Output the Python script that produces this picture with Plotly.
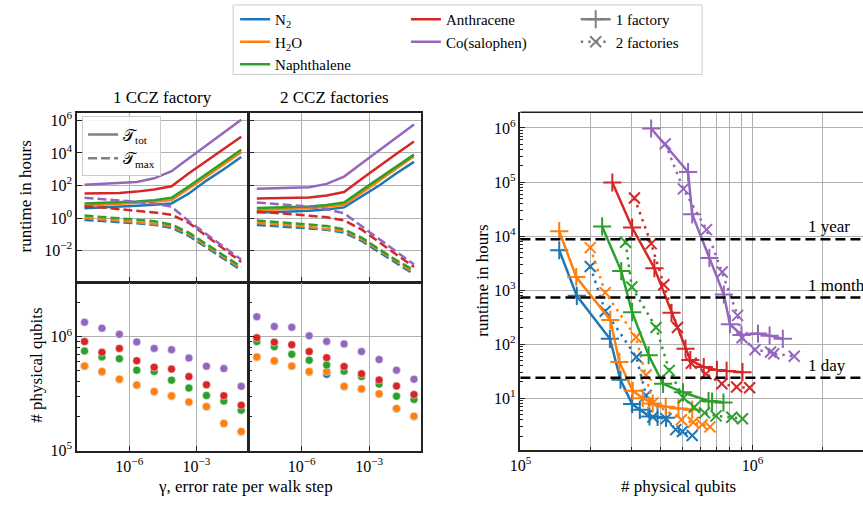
import plotly.graph_objects as go
import math

# ---------------- data ----------------
molecules = ["N2", "H2O", "Naphthalene", "Anthracene", "Co(salophen)"]
mol_labels = ["N<sub>2</sub>", "H<sub>2</sub>O", "Naphthalene", "Anthracene", "Co(salophen)"]
colors = ["#1f77b4", "#ff7f0e", "#2ca02c", "#d62728", "#9467bd"]

gamma = [1e-8, 6.0e-8, 3.6e-7, 2.15e-6, 1.29e-5, 7.7e-5, 4.6e-4, 2.8e-3, 1.67e-2, 1e-1]

# runtime (hours), 1 CCZ factory
ttot_1 = {
    "N2":           [4.0, 4.4, 4.8, 5.6, 6.6, 7.9, 32, 200, 1000, 5600],
    "H2O":          [5.6, 6.3, 7.1, 8.3, 10, 12.6, 63, 355, 2000, 11200],
    "Naphthalene":  [7.9, 8.5, 9.3, 10.5, 12.6, 17.8, 89, 500, 2820, 15800],
    "Anthracene":   [32, 33, 35, 42, 56, 89, 562, 3160, 17800, 100000],
    "Co(salophen)": [110, 126, 145, 166, 275, 759, 4680, 28800, 178000, 1100000],
}
tmax_1 = {
    "N2":           [0.76, 0.66, 0.56, 0.48, 0.38, 0.25, 0.079, 0.016, 0.0032, 0.00063],
    "H2O":          [1.0, 0.85, 0.71, 0.56, 0.45, 0.32, 0.1, 0.02, 0.004, 0.0008],
    "Naphthalene":  [1.41, 1.2, 1.0, 0.79, 0.63, 0.4, 0.126, 0.025, 0.005, 0.001],
    "Anthracene":   [5.2, 4.5, 3.5, 2.8, 2.2, 1.6, 0.5, 0.079, 0.0126, 0.002],
    "Co(salophen)": [17.8, 15.1, 12.6, 10, 7.6, 5.0, 0.63, 0.1, 0.016, 0.0028],
}
# runtime (hours), 2 CCZ factories
ttot_2 = {
    "N2":           [2.2, 2.3, 2.5, 2.8, 3.3, 4.5, 20, 100, 560, 2820],
    "H2O":          [3.0, 3.3, 3.6, 4.2, 5.0, 6.6, 35, 200, 1120, 6300],
    "Naphthalene":  [4.2, 4.5, 4.8, 5.2, 6.3, 8.9, 50, 282, 1580, 7900],
    "Anthracene":   [15.8, 16.2, 17, 18.6, 24, 40, 251, 1580, 8900, 50100],
    "Co(salophen)": [63, 66, 71, 79, 126, 355, 2240, 14100, 89100, 562000],
}
tmax_2 = {
    "N2":           [0.38, 0.33, 0.28, 0.23, 0.19, 0.126, 0.04, 0.0079, 0.0016, 0.00035],
    "H2O":          [0.5, 0.43, 0.35, 0.28, 0.22, 0.16, 0.05, 0.01, 0.002, 0.00045],
    "Naphthalene":  [0.71, 0.6, 0.5, 0.4, 0.32, 0.2, 0.063, 0.0126, 0.0025, 0.00063],
    "Anthracene":   [2.5, 2.1, 1.8, 1.4, 1.12, 0.71, 0.2, 0.032, 0.0056, 0.001],
    "Co(salophen)": [8.9, 7.6, 6.3, 5.0, 3.5, 2.0, 0.32, 0.05, 0.0079, 0.0014],
}
# physical qubits
qubits_1 = {
    "N2":           [5.5e5, 4.9e5, 4.2e5, 3.75e5, 3.28e5, 3.0e5, 2.65e5, 2.42e5, 1.72e5, 1.46e5],
    "H2O":          [5.53e5, 4.95e5, 4.23e5, 3.76e5, 3.3e5, 3.02e5, 2.67e5, 2.43e5, 1.73e5, 1.47e5],
    "Naphthalene":  [7.5e5, 6.65e5, 6.4e5, 5.08e5, 4.95e5, 4.15e5, 3.54e5, 3.04e5, 2.72e5, 2.26e5],
    "Anthracene":   [9.06e5, 7.3e5, 7.9e5, 6.15e5, 5.4e5, 5.19e5, 4.46e5, 3.78e5, 3.03e5, 2.5e5],
    "Co(salophen)": [1.34e6, 1.19e6, 1.05e6, 9.0e5, 7.9e5, 7.7e5, 6.5e5, 5.5e5, 5.25e5, 3.66e5],
}
qubits_2 = {
    "N2":           [6.6e5, 6.1e5, 5.5e5, 4.9e5, 4.67e5, 3.64e5, 3.46e5, 3.13e5, 2.33e5, 1.99e5],
    "H2O":          [6.65e5, 6.15e5, 5.53e5, 4.95e5, 4.95e5, 3.66e5, 3.48e5, 3.15e5, 2.34e5, 2.0e5],
    "Naphthalene":  [9.06e5, 8.17e5, 7.0e5, 6.22e5, 5.64e5, 4.98e5, 4.46e5, 3.83e5, 3.0e5, 2.81e5],
    "Anthracene":   [9.8e5, 8.95e5, 8.5e5, 7.4e5, 6.55e5, 5.47e5, 4.72e5, 4.17e5, 3.68e5, 3.1e5],
    "Co(salophen)": [1.5e6, 1.23e6, 1.21e6, 1.02e6, 9.1e5, 8.65e5, 7.4e5, 6.3e5, 5.08e5, 4.23e5],
}

# right panel: qubits vs runtime
rq_1 = {
    "N2":           [1.47e5, 1.75e5, 2.43e5, 2.7e5, 3.03e5, 3.27e5, 3.6e5, 3.9e5, 4.24e5],
    "H2O":          [1.47e5, 1.74e5, 2.44e5, 2.67e5, 3.05e5, 3.37e5, 3.72e5, 4.23e5, 4.8e5, 5.5e5],
    "Naphthalene":  [2.25e5, 2.72e5, 3.03e5, 3.57e5, 4.12e5, 5.02e5, 6.47e5, 6.7e5, 7.5e5],
    "Anthracene":   [2.49e5, 3.03e5, 3.78e5, 4.48e5, 5.15e5, 5.4e5, 6.17e5, 7.03e5, 7.74e5, 9.06e5],
    "Co(salophen)": [3.66e5, 5.28e5, 5.5e5, 6.52e5, 7.53e5, 8.0e5, 8.97e5, 1.057e6, 1.186e6, 1.352e6],
}
rt_1 = {
    "N2":           [5470, 785, 126, 22, 7.8, 6.1, 4.6, 4.5, 4.35],
    "H2O":          [12300, 1750, 281, 47, 13.7, 10, 8.0, 7.0, 6.5, 6.1],
    "Naphthalene":  [15100, 2250, 392, 62.5, 18.5, 12.9, 8.9, 8.7, 8.35],
    "Anthracene":   [98000, 14400, 2550, 380, 82.8, 50.8, 37.9, 33.5, 32.1, 30.4],
    "Co(salophen)": [977000, 153000, 25300, 3950, 830, 234, 148, 157, 144, 126],
}
rq_2 = {
    "N2":           [2.0e5, 2.32e5, 3.16e5, 3.48e5, 3.72e5, 4.24e5, 4.67e5, 4.99e5, 5.5e5],
    "H2O":          [2.0e5, 2.32e5, 3.15e5, 3.48e5, 3.72e5, 4.94e5, 5.56e5, 6.07e5, 6.56e5],
    "Naphthalene":  [2.84e5, 3.02e5, 3.84e5, 4.38e5, 5.04e5, 5.61e5, 6.22e5, 6.97e5, 8.15e5, 9.06e5],
    "Anthracene":   [3.1e5, 3.66e5, 4.15e5, 4.75e5, 5.45e5, 6.31e5, 7.38e5, 8.55e5, 9.73e5],
    "Co(salophen)": [4.21e5, 5.04e5, 6.34e5, 7.41e5, 8.63e5, 9.02e5, 1.026e6, 1.197e6, 1.236e6, 1.514e6],
}
rt_2 = {
    "N2":           [2740, 408, 58, 11.3, 4.5, 4.2, 2.63, 2.42, 2.05],
    "H2O":          [6120, 900, 134, 27, 8.2, 4.0, 3.6, 3.25, 2.95],
    "Naphthalene":  [7700, 1140, 204, 32.8, 10.2, 6.8, 5.36, 4.72, 4.44, 4.17],
    "Anthracene":   [50700, 7240, 1260, 204, 44.3, 28.3, 18.5, 16.1, 15.6],
    "Co(salophen)": [508000, 74600, 13150, 2160, 341, 132, 78.7, 71.8, 66.7, 60],
}

ref_labels = ["1 year", "1 month", "1 day"]
ref_hours = [8760, 730, 24]
ref_label_x = 1.7e6

# tick definitions
top_y_ticks = [1e-2, 1, 1e2, 1e4, 1e6]
top_y_text = ["10<sup>−2</sup>", "10<sup>0</sup>", "10<sup>2</sup>", "10<sup>4</sup>", "10<sup>6</sup>"]
bot_y_ticks = [1e5, 1e6]
bot_y_text = ["10<sup>5</sup>", "10<sup>6</sup>"]
gam_ticks = [1e-6, 1e-3]
gam_text = ["10<sup>−6</sup>", "10<sup>−3</sup>"]
right_y_ticks = [1e1, 1e2, 1e3, 1e4, 1e5, 1e6]
right_y_text = ["10<sup>1</sup>", "10<sup>2</sup>", "10<sup>3</sup>", "10<sup>4</sup>", "10<sup>5</sup>", "10<sup>6</sup>"]
right_x_ticks = [1e5, 1e6]
right_x_text = ["10<sup>5</sup>", "10<sup>6</sup>"]

# ---------------- styling ----------------
W, H = 863, 509
SERIF = "Liberation Serif, Times New Roman, serif"
FS = 17
GRID = "#b0b0b0"
LW = 2.5

def px_x(p):
    return p / W

def px_y(p):
    return (H - p) / H

fig = go.Figure()

# left panels
for panel, (tt, tm, qb) in enumerate([(ttot_1, tmax_1, qubits_1), (ttot_2, tmax_2, qubits_2)]):
    xa_top = "x" if panel == 0 else "x2"
    ya_top = "y" if panel == 0 else "y2"
    xa_bot = "x3" if panel == 0 else "x4"
    ya_bot = "y3" if panel == 0 else "y4"
    for m, c in zip(molecules, colors):
        fig.add_trace(go.Scatter(x=gamma, y=tt[m], mode="lines", line=dict(color=c, width=LW),
                                 xaxis=xa_top, yaxis=ya_top, showlegend=False))
    for m, c in zip(molecules, colors):
        fig.add_trace(go.Scatter(x=gamma, y=tm[m], mode="lines",
                                 line=dict(color=c, width=LW, dash="9px,4px"),
                                 xaxis=xa_top, yaxis=ya_top, showlegend=False))
    for m, c in zip(molecules, colors):
        fig.add_trace(go.Scatter(x=gamma, y=qb[m], mode="markers",
                                 marker=dict(color=c, size=8, line=dict(color="white", width=0.5)),
                                 xaxis=xa_bot, yaxis=ya_bot, showlegend=False))

# right panel
for m, c in zip(molecules, colors):
    fig.add_trace(go.Scatter(x=rq_1[m], y=rt_1[m], mode="lines+markers",
                             line=dict(color=c, width=LW),
                             marker=dict(symbol="cross-thin", size=13, color=c, line=dict(color=c, width=2)),
                             xaxis="x5", yaxis="y5", showlegend=False))
    fig.add_trace(go.Scatter(x=rq_2[m], y=rt_2[m], mode="lines+markers",
                             line=dict(color=c, width=LW, dash="2.5px,5px"),
                             marker=dict(symbol="x-thin", size=11, color=c, line=dict(color=c, width=2)),
                             xaxis="x5", yaxis="y5", showlegend=False))

# legend entries (main legend split into three columns)
for i, (lab, c) in enumerate(zip(mol_labels, colors)):
    fig.add_trace(go.Scatter(x=[None], y=[None], mode="lines", line=dict(color=c, width=LW),
                             name=lab, legend="legend" if i < 3 else "legend2", xaxis="x5", yaxis="y5"))
fig.add_trace(go.Scatter(x=[None], y=[None], mode="lines+markers", name="1 factory",
                         line=dict(color="gray", width=LW),
                         marker=dict(symbol="cross-thin", size=13, color="gray", line=dict(color="gray", width=2)),
                         legend="legend3", xaxis="x5", yaxis="y5"))
fig.add_trace(go.Scatter(x=[None], y=[None], mode="lines+markers", name="2 factories",
                         line=dict(color="gray", width=LW, dash="2.5px,5px"),
                         marker=dict(symbol="x-thin", size=11, color="gray", line=dict(color="gray", width=2)),
                         legend="legend3", xaxis="x5", yaxis="y5"))
fig.add_trace(go.Scatter(x=[None], y=[None], mode="lines", name="𝒯<sub>tot</sub>",
                         line=dict(color="gray", width=LW), legend="legend4", xaxis="x", yaxis="y"))
fig.add_trace(go.Scatter(x=[None], y=[None], mode="lines", name="𝒯<sub>max</sub>",
                         line=dict(color="gray", width=LW, dash="9px,4px"), legend="legend4", xaxis="x", yaxis="y"))

tickfont = dict(family=SERIF, size=16, color="black")

def ax_common(**kw):
    d = dict(type="log", showline=True, linecolor="#222222", linewidth=1.5, mirror=True,
             ticks="inside", ticklen=5, tickwidth=1, tickcolor="#222222",
             showgrid=True, gridcolor=GRID, gridwidth=1.3, zeroline=False,
             tickmode="array", tickfont=tickfont)
    d.update(kw)
    return d

xl_dom = [px_x(67), px_x(240)]
xr_dom = [px_x(241.5), px_x(415)]
yt_dom = [px_y(285), px_y(112)]
yb_dom = [px_y(458), px_y(286.5)]
x_rng = [-8.33, -0.70]
minor_y = dict(ticks="inside", ticklen=3, dtick="D1", showgrid=False, tickcolor="#222222")

leg_font = dict(family=SERIF, size=15, color="black")
layout = dict(
    width=W, height=H, margin=dict(l=0, r=0, t=0, b=0),
    paper_bgcolor="white", plot_bgcolor="white",
    font=dict(family=SERIF, size=FS, color="black"),
    xaxis=ax_common(domain=xl_dom, anchor="y", range=x_rng, tickvals=gam_ticks, ticktext=gam_text,
                    showticklabels=False),
    yaxis=ax_common(domain=yt_dom, anchor="x", range=[-3.92, 6.48], tickvals=top_y_ticks, ticktext=top_y_text),
    xaxis2=ax_common(domain=xr_dom, anchor="y2", range=x_rng, tickvals=gam_ticks, ticktext=gam_text,
                     showticklabels=False),
    yaxis2=ax_common(domain=yt_dom, anchor="x2", range=[-3.92, 6.48], tickvals=top_y_ticks,
                     ticktext=top_y_text, showticklabels=False),
    xaxis3=ax_common(domain=xl_dom, anchor="y3", range=x_rng, tickvals=gam_ticks, ticktext=gam_text),
    yaxis3=ax_common(domain=yb_dom, anchor="x3", range=[4.994, 6.47], tickvals=bot_y_ticks,
                     ticktext=bot_y_text, minor=minor_y),
    xaxis4=ax_common(domain=xr_dom, anchor="y4", range=x_rng, tickvals=gam_ticks, ticktext=gam_text),
    yaxis4=ax_common(domain=yb_dom, anchor="x4", range=[4.994, 6.47], tickvals=bot_y_ticks,
                     ticktext=bot_y_text, showticklabels=False, minor=minor_y),
    xaxis5=ax_common(domain=[px_x(516), 1.0], anchor="y5", range=[5.0, 6.4766], mirror=False,
                     tickvals=right_x_ticks, ticktext=right_x_text,
                     minor=dict(ticks="inside", ticklen=3, dtick="D1", showgrid=True,
                                gridcolor=GRID, gridwidth=1.3, tickcolor="#222222")),
    yaxis5=ax_common(domain=[px_y(456.7), px_y(111.7)], anchor="x5", range=[0.046, 6.29], mirror=False,
                     tickvals=right_y_ticks, ticktext=right_y_text, minor=minor_y),
    legend=dict(x=px_x(227), y=px_y(0), xanchor="left", yanchor="top", bgcolor="rgba(0,0,0,0)",
                font=leg_font, tracegroupgap=0),
    legend2=dict(x=px_x(400), y=px_y(0), xanchor="left", yanchor="top", bgcolor="rgba(0,0,0,0)",
                 font=leg_font, tracegroupgap=0),
    legend3=dict(x=px_x(572), y=px_y(0), xanchor="left", yanchor="top", bgcolor="rgba(0,0,0,0)",
                 font=leg_font, tracegroupgap=0),
    legend4=dict(x=px_x(72), y=px_y(116), xanchor="left", yanchor="top", bgcolor="rgba(255,255,255,0.85)",
                 bordercolor="#cccccc", borderwidth=1, font=dict(family=SERIF, size=16, color="black"),
                 tracegroupgap=0),
)
fig.update_layout(**layout)

# top frame of right panel
fig.add_shape(type="line", xref="paper", yref="paper", x0=px_x(516), x1=1.0, y0=px_y(111.7), y1=px_y(111.7),
              line=dict(color="#222222", width=1.5))

# legend frame
fig.add_shape(type="rect", xref="paper", yref="paper", x0=px_x(225), x1=px_x(700), y0=px_y(73), y1=px_y(2),
              line=dict(color="#cccccc", width=1), fillcolor="white", layer="below")

# reference horizontal lines on right panel
for lab, hrs in zip(ref_labels, ref_hours):
    fig.add_shape(type="line", xref="x5 domain", yref="y5", x0=0, x1=1, y0=hrs, y1=hrs,
                  line=dict(color="black", width=2.5, dash="10px,5px"))
    fig.add_annotation(x=math.log10(ref_label_x), y=math.log10(hrs), xref="x5", yref="y5",
                       text=lab, showarrow=False, xanchor="left", yanchor="bottom", yshift=1,
                       font=dict(family=SERIF, size=17))

# titles & axis labels
ann = [
    dict(text="1 CCZ factory", x=px_x(153.5), y=px_y(97)),
    dict(text="2 CCZ factories", x=px_x(328), y=px_y(97)),
    dict(text="γ, error rate per walk step", x=px_x(238), y=px_y(494)),
    dict(text="# physical qubits", x=px_x(676), y=px_y(494)),
    dict(text="runtime in hours", x=px_x(15), y=px_y(198), textangle=-90),
    dict(text="# physical qubits", x=px_x(25), y=px_y(370), textangle=-90),
    dict(text="runtime in hours", x=px_x(478), y=px_y(284), textangle=-90),
]
for a in ann:
    fig.add_annotation(xref="paper", yref="paper", showarrow=False, xanchor="center", yanchor="middle",
                       font=dict(family=SERIF, size=17), **a)

fig.write_html("out.html")
